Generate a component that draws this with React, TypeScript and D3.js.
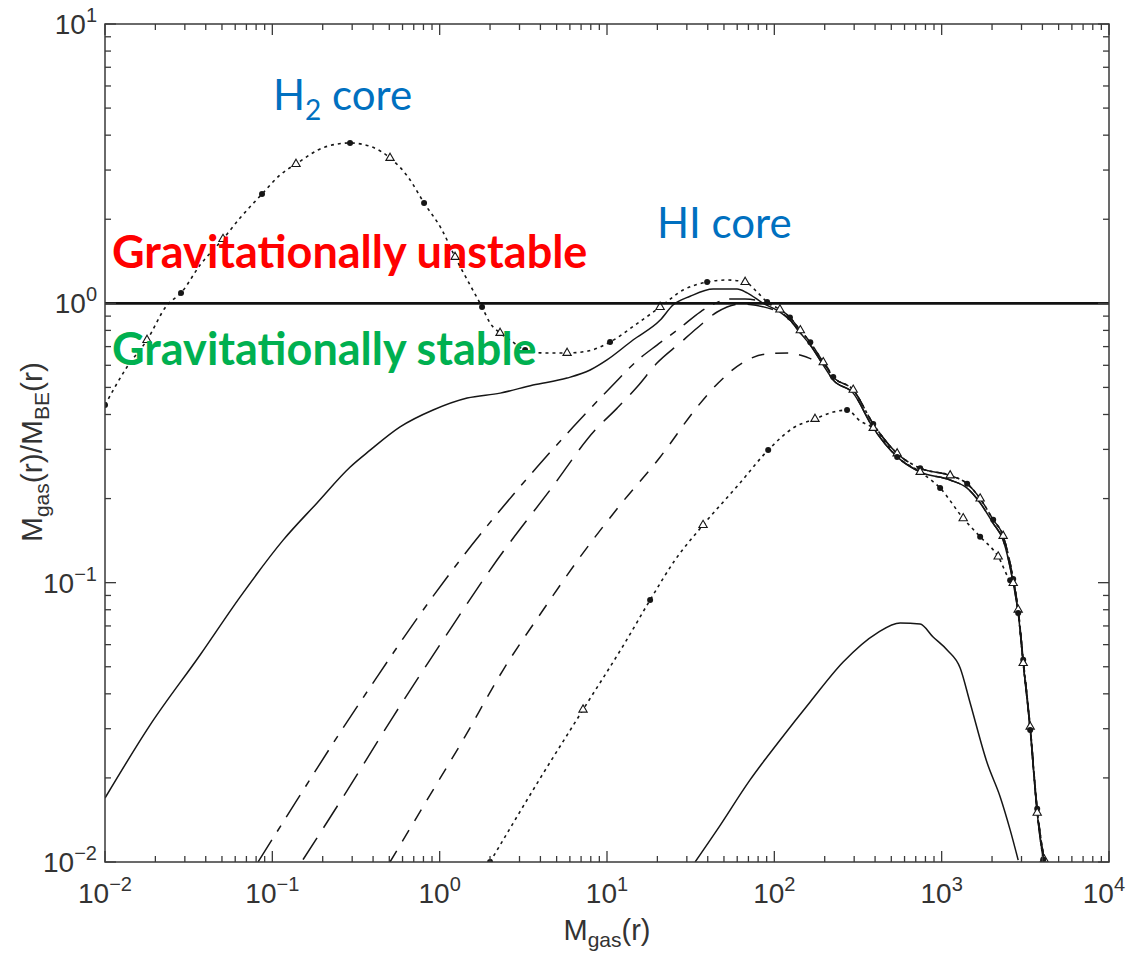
import React from 'react'
import * as d3 from 'd3'

type Pt = [number, number]

// solid curve (upper), rising from left edge
const curveA: Pt[] = [
  [0.01, 0.01694], [0.01858, 0.0309], [0.037, 0.0551], [0.0641, 0.0888], [0.116, 0.142],
  [0.185, 0.193], [0.291, 0.259], [0.384, 0.298], [0.58, 0.361], [0.913, 0.415],
  [1.46, 0.458], [2.3, 0.477], [3.61, 0.51], [5.77, 0.54], [7.93, 0.577], [10.0, 0.627],
  [14.3, 0.739], [20.8, 0.871], [24.8, 0.986], [31.4, 1.06], [43.1, 1.125], [59.9, 1.125],
  [68.8, 1.09], [85.7, 1.0],
]

// long dash / short dash
const curveB: Pt[] = [
  [0.0821, 0.01], [0.1406, 0.01668], [0.2438, 0.028], [0.4227, 0.046], [0.743, 0.0753],
  [1.325, 0.1205], [2.056, 0.1676], [3.82, 0.2594], [6.27, 0.3606], [10.7, 0.506],
  [15.3, 0.627], [19.9, 0.709], [27.3, 0.816], [36.0, 0.931], [44.3, 1.0], [54.4, 1.036],
  [66.9, 1.036],
]

// long dash
const curveC: Pt[] = [
  [0.1526, 0.0102], [0.265, 0.0171], [0.5266, 0.0331], [1.077, 0.0639], [2.203, 0.1205],
  [4.57, 0.2146], [8.49, 0.3517], [11.5, 0.4216], [15.3, 0.506], [19.9, 0.611], [27.3, 0.721],
  [34.6, 0.816], [45.5, 0.931], [62.5, 0.994],
]

// medium dash
const curveD: Pt[] = [
  [0.505, 0.01], [0.841, 0.01668], [1.38, 0.02735], [2.393, 0.04867], [4.15, 0.0798],
  [6.91, 0.1236], [11.98, 0.1897], [20.8, 0.2818], [34.6, 0.4256], [46.2, 0.5186],
  [64.2, 0.611], [88.2, 0.658], [121, 0.664], [149, 0.648], [175, 0.625],
]

// dotted with markers (lower peak)
const curveE: Pt[] = [
  [2.001, 0.01], [3.87, 0.01936], [7.19, 0.0351], [12.8, 0.0609], [18.1, 0.0867],
  [25.5, 0.1205], [37.5, 0.1608], [60.8, 0.2235], [91.9, 0.2983], [129.5, 0.358],
  [175, 0.3855], [225, 0.408], [272, 0.415], [326, 0.379],
]
const branchE: Pt[] = [
  [979, 0.218], [1345, 0.17], [1698, 0.146], [2176, 0.124], [2566, 0.102],
]

// small solid hump
const curveF: Pt[] = [
  [33.6, 0.01], [45.5, 0.01303], [71.6, 0.01968], [108.3, 0.02735], [163.7, 0.03741],
  [257.8, 0.052], [411, 0.06602], [565, 0.07168], [743, 0.0711], [889, 0.0639],
  [1078, 0.0574], [1290, 0.0495], [1480, 0.0371], [1871, 0.0226], [2238, 0.0171],
  [2566, 0.01303], [2866, 0.01016],
]

// H2 core curve, dotted with markers
const curveG: Pt[] = [
  [0.01, 0.4324], [0.01353, 0.5914], [0.01783, 0.739], [0.02349, 0.9861], [0.02846, 1.0886],
  [0.03698, 1.371], [0.05072, 1.699], [0.0641, 2.02], [0.08677, 2.462], [0.1112, 2.88],
  [0.1385, 3.153], [0.2065, 3.628], [0.2913, 3.75], [0.3945, 3.628], [0.5052, 3.313],
  [0.6474, 2.833], [0.8069, 2.287], [1.033, 1.83], [1.236, 1.465], [1.519, 1.163],
  [1.792, 0.97], [2.001, 0.85], [2.296, 0.783], [2.635, 0.739], [3.24, 0.681],
  [4.266, 0.664], [5.775, 0.664], [7.709, 0.675], [10.43, 0.727], [14.72, 0.836],
  [20.77, 0.97], [28.5, 1.116], [39.66, 1.192], [52.23, 1.212], [66.91, 1.192],
  [78.93, 1.098], [90.57, 1.011],
]

// common descending part (two close lines)
const trunk: Pt[] = [
  [108, 0.931], [124, 0.871], [143, 0.783], [164, 0.709], [196, 0.601], [225, 0.531],
  [296, 0.477], [390, 0.358], [542, 0.282], [744, 0.249], [1124, 0.233], [1420, 0.218],
  [1698, 0.193], [2032, 0.163], [2330, 0.142], [2676, 0.0997], [2866, 0.0779],
  [3071, 0.0515], [3381, 0.0297], [3723, 0.015], [4045, 0.0102],
]
const trunk2: Pt[] = [
  [108, 0.95], [124, 0.89], [143, 0.8], [164, 0.725], [196, 0.615], [225, 0.545],
  [296, 0.49], [390, 0.37], [542, 0.29], [744, 0.257], [1124, 0.242], [1420, 0.226],
  [1698, 0.2], [2032, 0.168], [2330, 0.147], [2676, 0.103], [2866, 0.08],
  [3071, 0.053], [3381, 0.0305], [3723, 0.0155], [4100, 0.0102],
]

const xMajor = [-2, -1, 0, 1, 2, 3, 4]
const yMajor = [-2, -1, 0, 1]
const expLabel = (e: number) => (e < 0 ? `\u2212${-e}` : `${e}`)

const after = (arr: Pt[], x0: number) => arr.filter((d) => d[0] > x0)
const between = (arr: Pt[], a: number, b: number) => arr.filter((d) => d[0] > a && d[0] < b)

export default function App() {
  const W = 1128
  const H = 954
  const L = 105, R = 1109, T = 24, B = 862

  const x = d3.scaleLog().domain([1e-2, 1e4]).range([L, R])
  const y = d3.scaleLog().domain([1e-2, 1e1]).range([B, T])
  const line = d3
    .line<Pt>()
    .x((d) => x(d[0]))
    .y((d) => y(d[1]))
    .curve(d3.curveMonotoneX)

  const sA = [...curveA, ...after(trunk, 85.7)]
  const sB = [...curveB, ...after(trunk2, 66.9)]
  const sC = [...curveC, ...after(trunk, 62.5)]
  const sD = [...curveD, ...after(trunk2, 175)]
  const sE = [...curveE, ...between(trunk, 326, 800), ...branchE, ...after(trunk, 2600)]
  const sG = [...curveG, ...after(trunk2, 90.57)]

  const ink = '#161616'
  const series = [
    { d: sA, dash: null, w: 1.5 },
    { d: sB, dash: '26 10 7 10', w: 1.5 },
    { d: sC, dash: '26 12', w: 1.5 },
    { d: sD, dash: '13 11', w: 1.5 },
    { d: sE, dash: '3 4', w: 1.6 },
    { d: curveF, dash: null, w: 1.5 },
    { d: sG, dash: '3 4', w: 1.6 },
  ]

  const tri = d3.symbol().type(d3.symbolTriangle).size(30)()
  const inPlot = (cx: number, cy: number) => cx >= L && cx <= R && cy >= T && cy <= B
  const marker = (d: Pt, k: string, filled: boolean) => {
    const cx = x(d[0])
    const cy = y(d[1])
    if (!inPlot(cx, cy)) return null
    return filled ? (
      <circle key={k} cx={cx} cy={cy} r={3} fill={ink} />
    ) : (
      <path key={k} d={tri as string} transform={`translate(${cx},${cy})`} fill="#fff" stroke={ink} strokeWidth={1.1} />
    )
  }
  // sparse markers on the separate arms, every point on the shared trunk
  const markers = (arm: Pt[], tail: Pt[], key: string) => [
    ...arm.filter((_, i) => i % 2 === 0).map((d, i) => marker(d, `${key}a${i}`, i % 2 === 0)),
    ...tail.map((d, i) => marker(d, `${key}t${i}`, i % 2 === 1)),
  ]

  const xTicks = x.ticks()
  const yTicks = y.ticks()
  const isMajor = (v: number) => Math.abs(Math.log10(v) - Math.round(Math.log10(v))) < 1e-6

  const axisColor = '#3a3a3a'
  const labelFont = 'Liberation Sans, Arial, sans-serif'

  return (
    <svg width={W} height={H} style={{ position: 'absolute', left: 0, top: 0, background: '#fff' }}>
      <defs>
        <clipPath id="plot">
          <rect x={L} y={T} width={R - L} height={B - T} />
        </clipPath>
      </defs>
      <rect width={W} height={H} fill="#fff" />

      <g clipPath="url(#plot)">
        {series.map((s, i) => (
          <path
            key={i}
            d={line(s.d) || ''}
            fill="none"
            stroke={ink}
            strokeWidth={s.w}
            strokeDasharray={s.dash || undefined}
          />
        ))}
        {markers(curveG, after(trunk2, 90.57), 'g')}
        {markers(curveE, [...between(trunk, 326, 800), ...branchE, ...after(trunk, 2600)], 'e')}
        <line x1={L} x2={R} y1={y(1)} y2={y(1)} stroke="#111" strokeWidth={2.6} />
      </g>

      {/* frame and inward ticks */}
      <rect x={L} y={T} width={R - L} height={B - T} fill="none" stroke={axisColor} strokeWidth={1.5} />
      {xTicks.map((v, i) => {
        const len = isMajor(v) ? 11 : 6
        const px = x(v)
        return (
          <g key={`xt${i}`} stroke={axisColor} strokeWidth={1.3}>
            <line x1={px} x2={px} y1={B} y2={B - len} />
            <line x1={px} x2={px} y1={T} y2={T + len} />
          </g>
        )
      })}
      {yTicks.map((v, i) => {
        const len = isMajor(v) ? 11 : 6
        const py = y(v)
        return (
          <g key={`yt${i}`} stroke={axisColor} strokeWidth={1.3}>
            <line x1={L} x2={L + len} y1={py} y2={py} />
            <line x1={R} x2={R - len} y1={py} y2={py} />
          </g>
        )
      })}

      {/* tick labels */}
      {xMajor.map((e) => {
        const last = e === xMajor[xMajor.length - 1]
        return (
          <text
            key={`xl${e}`}
            x={last ? 1125 : x(Math.pow(10, e))}
            y={903}
            textAnchor={last ? 'end' : 'middle'}
            fontFamily={labelFont}
            fontSize={28}
            fill="#333"
          >
            10<tspan dy={-12} fontSize={20}>{expLabel(e)}</tspan>
          </text>
        )
      })}
      {yMajor.map((e) => (
        <text key={`yl${e}`} x={97} y={y(Math.pow(10, e)) + 10} textAnchor="end" fontFamily={labelFont} fontSize={28} fill="#333">
          10<tspan dy={-12} fontSize={20}>{expLabel(e)}</tspan>
        </text>
      ))}

      {/* axis titles */}
      <text x={607} y={940} textAnchor="middle" fontFamily={labelFont} fontSize={29} fill="#333">
        M<tspan dy={7} fontSize={21}>gas</tspan>
        <tspan dy={-7}>(r)</tspan>
      </text>
      <text transform="translate(42,452) rotate(-90)" textAnchor="middle" fontFamily={labelFont} fontSize={30} fill="#333">
        M<tspan dy={7} fontSize={21}>gas</tspan>
        <tspan dy={-7}>(r)/M</tspan>
        <tspan dy={7} fontSize={21}>BE</tspan>
        <tspan dy={-7}>(r)</tspan>
      </text>

      {/* annotations */}
      <text x={273} y={110} fontFamily="Lato, sans-serif" fontSize={42} fill="#0070C0">
        H<tspan dy={10} fontSize={28}>2</tspan>
        <tspan dy={-10}> core</tspan>
      </text>
      <text x={657} y={238} fontFamily="Lato, sans-serif" fontSize={42} fill="#0070C0">
        HI core
      </text>
      <text x={112} y={268} fontFamily="Lato, sans-serif" fontWeight="bold" fontSize={45} fill="#FF0000">
        Gravitationally unstable
      </text>
      <text x={112} y={365} fontFamily="Lato, sans-serif" fontWeight="bold" fontSize={45} fill="#00B050">
        Gravitationally stable
      </text>
    </svg>
  )
}
